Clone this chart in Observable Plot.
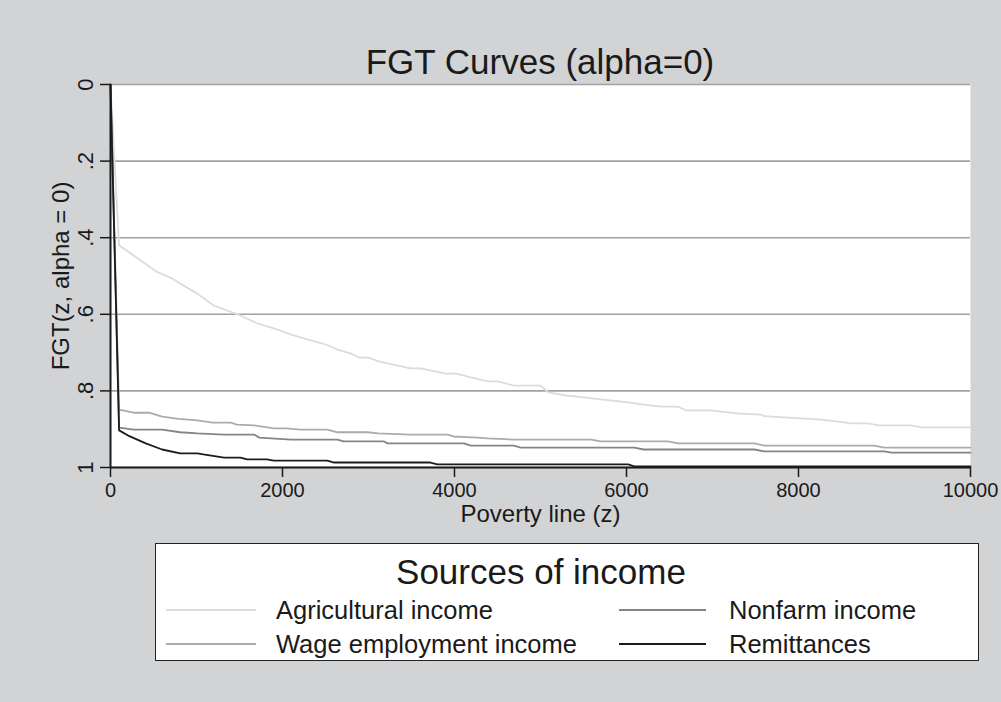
<!DOCTYPE html>
<html>
<head>
<meta charset="utf-8">
<script src="https://cdn.jsdelivr.net/npm/d3@7"></script>
<script src="https://cdn.jsdelivr.net/npm/@observablehq/plot@0.6"></script>
<style>
  html, body { margin: 0; padding: 0; background: #d2d3d5; }
  #wrap { position: relative; width: 1001px; height: 702px; background: #d2d3d5; font-family: "Liberation Sans", Arial, sans-serif; color: #1a1a1a; overflow: hidden; }
  #title { position: absolute; left: 110px; width: 860px; top: 42px; text-align: center; font-size: 35px; line-height: 40px; }
  #chart { position: absolute; left: 0; top: 0; }
  #legend { position: absolute; left: 155px; top: 543px; width: 822px; height: 116px; background: #fff; border: 1.5px solid #222; }
  #legend .lt { position: absolute; left: 0; width: 770px; top: 8px; text-align: center; font-size: 35px; line-height: 40px; }
  #legend .item { position: absolute; height: 30px; font-size: 25.5px; line-height: 30px; }
  #legend .sw { position: absolute; left: 0; top: 14px; width: 90px; height: 0; border-top: 2px solid #000; }
  #legend .lab { position: absolute; white-space: nowrap; }
</style>
</head>
<body>
<div id="wrap">
  <div id="title">FGT Curves (alpha=0)</div>
  <div id="chart"></div>
  <div id="legend"><div class="lt">Sources of income</div></div>
</div>
<script>
// ---- Data ----
const seriesNames = ["Agricultural income", "Wage employment income", "Nonfarm income", "Remittances"];
const seriesColors = ["#dcdcdc", "#ababab", "#858585", "#1c1c1c"];

const agriZ = [0, 100, 547, 720, 910, 1010, 1200, 1510, 1710, 1900, 2130, 2330, 2480, 2640, 2790, 2890, 3000, 3120, 3340, 3490, 3610, 3730, 3900, 4020, 4190, 4390, 4500, 4690, 5000, 5090, 5300, 5500, 5700, 5900, 6020, 6200, 6400, 6600, 6690, 6980, 7180, 7300, 7570, 7600, 7830, 8030, 8260, 8460, 8610, 8810, 8930, 9310, 9430, 10000];
const agriV = [0, .42, .49, .507, .533, .546, .577, .603, .624, .637, .655, .668, .677, .692, .702, .713, .713, .723, .734, .741, .741, .747, .755, .755, .765, .775, .775, .786, .786, .804, .812, .817, .822, .827, .830, .836, .841, .841, .851, .851, .856, .859, .862, .866, .869, .872, .875, .880, .885, .885, .890, .890, .895, .895];

const wageZ = [0, 100, 270, 450, 600, 790, 1010, 1190, 1400, 1470, 1670, 1900, 2040, 2210, 2520, 2640, 2990, 3110, 3490, 3920, 3990, 4270, 4390, 4690, 5590, 5700, 6480, 6600, 7490, 7600, 8880, 9000, 10000];
const wageV = [0, .849, .857, .857, .867, .873, .877, .883, .883, .888, .890, .898, .898, .901, .901, .908, .908, .911, .914, .914, .919, .922, .924, .927, .927, .932, .932, .937, .937, .943, .943, .948, .948];

const nonfarmZ = [0, 100, 270, 600, 810, 1010, 1320, 1670, 1730, 2100, 2640, 2710, 3180, 3220, 4110, 4190, 4690, 4770, 6090, 6200, 7490, 7600, 9000, 9080, 10000];
const nonfarmV = [0, .896, .901, .901, .908, .911, .914, .914, .922, .927, .927, .932, .932, .937, .937, .943, .943, .948, .948, .953, .953, .958, .958, .961, .961];

const remitZ = [0, 100, 200, 410, 600, 810, 1010, 1080, 1320, 1510, 1590, 1820, 1900, 2520, 2600, 3720, 3800, 6020, 6090, 10000];
const remitV = [0, .903, .916, .937, .953, .963, .963, .966, .974, .974, .979, .979, .982, .982, .987, .987, .992, .992, .997, .997];

const xTicks = [0, 2000, 4000, 6000, 8000, 10000];
const yTicks = [0, 0.2, 0.4, 0.6, 0.8, 1];
const yTickLabels = ["0", ".2", ".4", ".6", ".8", "1"];
const xLabel = "Poverty line (z)";
const yLabel = "FGT(z, alpha = 0)";

// ---- Build table ----
const seriesZ = [agriZ, wageZ, nonfarmZ, remitZ];
const seriesV = [agriV, wageV, nonfarmV, remitV];
const rows = [];
seriesNames.forEach((name, i) => {
  seriesZ[i].forEach((z, j) => rows.push({series: name, z, v: seriesV[i][j]}));
});
const yTickData = yTicks.map((t, i) => ({t, label: yTickLabels[i]}));

const chart = Plot.plot({
  width: 1001,
  height: 540,
  marginLeft: 110,
  marginRight: 31,
  marginTop: 84,
  marginBottom: 73,
  style: {background: "transparent", fontFamily: "'Liberation Sans', Arial, sans-serif", color: "#1a1a1a"},
  x: {domain: [0, 10000]},
  y: {domain: [0, 1], reverse: true},
  color: {domain: seriesNames, range: seriesColors},
  marks: [
    Plot.frame({fill: "white", stroke: null}),
    Plot.gridY(yTicks, {stroke: "#a2a2a2", strokeOpacity: 1, strokeWidth: 1.6}),
    Plot.line(rows, {x: "z", y: "v", z: "series", stroke: "series", strokeWidth: 1.8}),
    Plot.ruleX([0], {stroke: "#1a1a1a", strokeWidth: 2}),
    Plot.ruleY([1], {stroke: "#1a1a1a", strokeWidth: 2}),
    Plot.axisX(xTicks, {tickSize: 10, tickPadding: 5, tickFormat: d3.format("d"), fontSize: 20, stroke: "#1a1a1a", strokeWidth: 1.5, label: null}),
    Plot.axisY(yTicks, {tickSize: 10, text: null, stroke: "#1a1a1a", strokeWidth: 1.5, label: null}),
    Plot.text(yTickData, {y: "t", text: "label", frameAnchor: "left", textAnchor: "middle", rotate: -90, dx: -25, fontSize: 22, fill: "#1a1a1a"}),
    Plot.text([xLabel], {frameAnchor: "bottom", textAnchor: "middle", dy: 54, fontSize: 24, fill: "#1a1a1a"}),
    Plot.text([yLabel], {frameAnchor: "left", textAnchor: "middle", rotate: -90, dx: -49, fontSize: 24, fill: "#1a1a1a"})
  ]
});
document.getElementById("chart").appendChild(chart);

// ---- Legend ----
const legend = document.getElementById("legend");
const legendPos = [
  {left: 10, top: 51},
  {left: 10, top: 85},
  {left: 463, top: 51},
  {left: 463, top: 85}
];
const legendTextLeft = [110, 110, 110, 110];
seriesNames.forEach((name, i) => {
  const it = document.createElement("div");
  it.className = "item";
  it.style.left = legendPos[i].left + "px";
  it.style.top = legendPos[i].top + "px";
  const sw = document.createElement("div");
  sw.className = "sw";
  sw.style.borderTopColor = seriesColors[i];
  sw.style.width = (i < 2 ? 90 : 87) + "px";
  const lab = document.createElement("div");
  lab.className = "lab";
  lab.style.left = legendTextLeft[i] + "px";
  lab.textContent = name;
  it.appendChild(sw);
  it.appendChild(lab);
  legend.appendChild(it);
});
</script>
</body>
</html>
